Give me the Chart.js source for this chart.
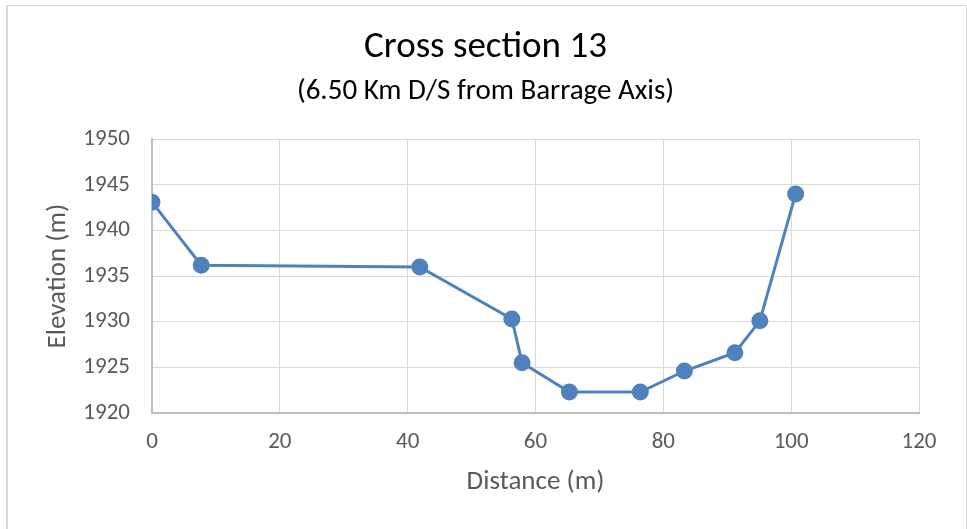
<!DOCTYPE html>
<html lang="en">
<head>
    <meta charset="UTF-8">
    <title>Cross section 13</title>
    <script src="https://cdn.jsdelivr.net/npm/chart.js"></script>
    <style>
        body { margin: 0; background: #fff; }
        #frame {
            position: absolute; left: 6px; top: 5px; width: 958px; height: 540px;
            border-left: 2px solid #d9d9d9; border-top: 1px solid #d9d9d9; border-right: 2px solid #d9d9d9;
        }
        #wrap { position: absolute; left: 0; top: 0; width: 967px; height: 529px; }
    </style>
</head>
<body>
    <div id="frame"></div>
    <div id="wrap"><canvas id="myChart"></canvas></div>

    <script>
        // survey points of the section
        var distance = [0, 7.7, 41.9, 56.3, 57.9, 65.3, 76.4, 83.3, 91.2, 95.1, 100.7];
        var elevation = [1943.1, 1936.2, 1936.0, 1930.3, 1925.5, 1922.3, 1922.3, 1924.6, 1926.6, 1930.1, 1944.0];

        var xTicks = [0, 20, 40, 60, 80, 100, 120];
        var yTicks = [1920, 1925, 1930, 1935, 1940, 1945, 1950];

        var points = [];
        for (var i = 0; i < distance.length; i++) {
            points.push({ x: distance[i], y: elevation[i] });
        }

        var font = "Carlito, Lato, sans-serif";
        var blue = "#4f81bd";

        var ctx = document.getElementById("myChart").getContext("2d");
        var myChart = new Chart(ctx, {
            type: "scatter",
            data: {
                datasets: [{
                    label: "Cross section 13",
                    data: points,
                    showLine: true,
                    borderColor: blue,
                    backgroundColor: blue,
                    borderWidth: 3,
                    pointRadius: 7,
                    pointHoverRadius: 7
                }]
            },
            options: {
                responsive: true,
                maintainAspectRatio: false,
                animation: false,
                layout: { padding: { left: 52, right: 48, top: 0, bottom: 0 } },
                plugins: {
                    legend: { display: false },
                    tooltip: { enabled: false },
                    title: {
                        display: true,
                        text: "Cross section 13",
                        color: "#000",
                        font: { family: font, size: 37, weight: "normal" },
                        padding: { top: 26, bottom: 0 }
                    },
                    subtitle: {
                        display: true,
                        text: "(6.50 Km D/S from Barrage Axis)",
                        color: "#000",
                        font: { family: font, size: 29, weight: "normal" },
                        padding: { top: 4, bottom: 30 }
                    }
                },
                scales: {
                    x: {
                        type: "linear",
                        min: xTicks[0],
                        max: xTicks[xTicks.length - 1],
                        afterBuildTicks: function (axis) {
                            axis.ticks = xTicks.map(function (v) { return { value: v }; });
                        },
                        grid: { color: "#d9d9d9", lineWidth: 1, drawTicks: false },
                        border: { color: "#bfbfbf", width: 2 },
                        ticks: {
                            color: "#595959", font: { family: font, size: 23 }, padding: 15, maxRotation: 0,
                            callback: function (v) { return String(v); }
                        },
                        title: {
                            display: true,
                            text: "Distance (m)",
                            color: "#595959",
                            font: { family: font, size: 27 },
                            padding: { top: 10, bottom: 31 }
                        },
                        afterFit: function (axis) { axis.height = 116; }
                    },
                    y: {
                        type: "linear",
                        min: yTicks[0],
                        max: yTicks[yTicks.length - 1],
                        afterBuildTicks: function (axis) {
                            axis.ticks = yTicks.map(function (v) { return { value: v }; });
                        },
                        grid: { color: "#d9d9d9", lineWidth: 1, drawTicks: false },
                        border: { color: "#bfbfbf", width: 2 },
                        ticks: {
                            color: "#595959", font: { family: font, size: 23 }, padding: 22,
                            callback: function (v) { return String(v); }
                        },
                        title: {
                            display: true,
                            text: "Elevation (m)",
                            color: "#595959",
                            font: { family: font, size: 27 },
                            padding: { top: -10, bottom: 0 }
                        },
                        afterFit: function (axis) { axis.width = 100; }
                    }
                }
            }
        });
    </script>
</body>
</html>
